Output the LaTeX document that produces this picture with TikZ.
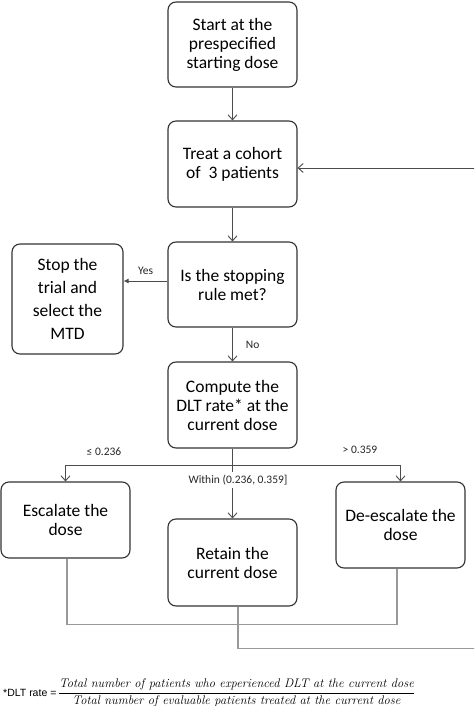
\documentclass[tikz,border=0pt]{standalone}
\usepackage{fontspec}
\setmainfont{Carlito}
\newfontfamily\arialf{Liberation Sans}
\newfontfamily\lmserif{Latin Modern Roman}
\usetikzlibrary{arrows.meta}
\begin{document}
\begin{tikzpicture}[x=1pt,y=-1pt,
  box/.style={draw=black!80, line width=1.1pt, rounded corners=8pt, align=center,
    font=\fontsize{17.5}{19}\selectfont, text=black, inner sep=2pt,
    minimum width=129pt},
  arr/.style={draw=black!70, line width=0.9pt, -{Straight Barb[length=5pt,width=9pt]}},
  lnk/.style={draw=black!40, line width=1.1pt},
  lbl/.style={font=\fontsize{11.5}{13}\selectfont, text=black!85, inner sep=1pt}]
\clip (0,0) rectangle (474,706);
\fill[white] (0,0) rectangle (474,706);
% boxes
\node[box, minimum height=85pt] (start) at (232.5,44.5) {Start at the\\prespecified\\starting dose};
\node[box, minimum height=86pt] (treat) at (232.5,164) {Treat a cohort\\of~ 3 patients};
\node[box, minimum height=85pt] (rule) at (232.5,284.5) {Is the stopping\\rule met?};
\node[box, minimum width=111pt, minimum height=110pt, font=\fontsize{17.5}{23}\selectfont] (stop) at (67.5,299) {Stop the\\trial and\\select the\\MTD};
\node[box, minimum height=86pt] (compute) at (232.5,405) {Compute the\\DLT rate* at the\\current dose};
\node[box, minimum height=76pt] (esc) at (65.5,520) {Escalate the\\dose};
\node[box, minimum height=87pt] (retain) at (232.5,562.5) {Retain the\\current dose};
\node[box, minimum height=86pt] (deesc) at (400.5,525) {De-escalate the\\dose};
% connectors
\draw[arr] (start) -- (treat);
\draw[arr] (treat) -- (rule);
\coordinate (yesstart) at ([yshift=3.5pt]rule.west);
\draw[draw=black!70, line width=0.9pt, -{Latex[length=5pt,width=5pt]}] (yesstart) -- node[lbl, above=5pt] {Yes} (stop.east |- yesstart);
\draw[arr] (rule) -- node[lbl, right=12pt] {No} (compute);
\coordinate (split) at (232.5,465);
\draw[arr] (compute) -- (split) -| (esc.north);
\draw[arr] (split) -| (deesc.north);
\draw[arr] (split) -- node[lbl, fill=white, inner sep=3pt, pos=0.28, xshift=5.5pt] {Within (0.236, 0.359]} (retain);
\node[lbl] (lowlbl) at (104,452) {≤ 0.236};
\node[lbl] (highlbl) at (360,450) {> 0.359};
% return paths
\draw[lnk] ([xshift=1.5pt]esc.south) -- ++(0,66) -| ([xshift=-3.5pt]deesc.south);
\coordinate (loopc) at (476,168);
\draw[lnk] ([xshift=5.5pt]retain.south) -- ++(0,42) -| (loopc);
\draw[arr] (loopc) -- ([yshift=-4pt]treat.east);
% formula
\node[anchor=west, inner sep=0pt, font=\arialf\fontsize{10.5}{12}\selectfont, text=black] (dltlbl) at (3,693) {*DLT rate =};
\node[anchor=west, inner sep=1pt, text=black] (frac) at (dltlbl.east) {\fontsize{12.5}{14}\selectfont$\displaystyle\frac{\hbox{\lmserif\itshape Total number of patients who experienced DLT at the current dose}}{\hbox{\lmserif\itshape Total number of evaluable patients treated at the current dose}}$};
\end{tikzpicture}
\end{document}
